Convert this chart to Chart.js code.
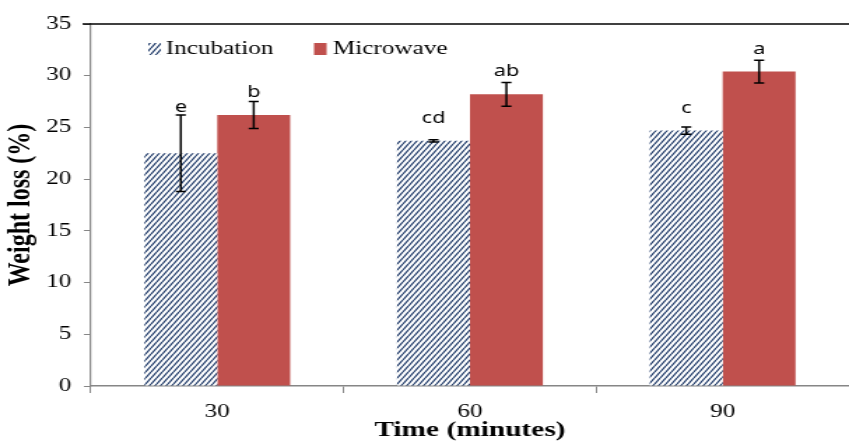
<!DOCTYPE html>
<html>
<head>
<meta charset="utf-8">
<script src="https://cdn.jsdelivr.net/npm/chart.js@4.4.1/dist/chart.umd.min.js"></script>
<style>
  html, body { margin: 0; padding: 0; background: #ffffff; overflow: hidden; }
  #wrap { position: relative; width: 607px; height: 443px; transform: scaleX(1.39868); transform-origin: 0 0; }
  canvas { display: block; }
</style>
</head>
<body>
<div id="wrap"><canvas id="c" width="607" height="443"></canvas></div>
<script>
// ---- data ----
const categories = ['30', '60', '90'];
const seriesNames = ['Incubation', 'Microwave'];
const incubation = [22.5, 23.7, 24.7];
const microwave = [26.2, 28.2, 30.4];
const incubationErr = [3.7, 0.1, 0.35];
const microwaveErr = [1.3, 1.15, 1.1];
const incubationLetters = ['e', 'cd', 'c'];
const microwaveLetters = ['b', 'ab', 'a'];
const yTicks = [0, 5, 10, 15, 20, 25, 30, 35];

// ---- hatch pattern ----
function makeHatch() {
  const w = 4, h = 6;
  const p = document.createElement('canvas');
  p.width = w; p.height = h;
  const g = p.getContext('2d');
  g.fillStyle = '#ffffff';
  g.fillRect(0, 0, w, h);
  g.strokeStyle = '#1b3766';
  g.lineWidth = 1.2;
  g.beginPath();
  g.moveTo(0, h); g.lineTo(w, 0);
  g.moveTo(-w, h); g.lineTo(0, 0);
  g.moveTo(w, h); g.lineTo(2 * w, 0);
  g.stroke();
  return document.getElementById('c').getContext('2d').createPattern(p, 'repeat');
}
const hatch = makeHatch();

const serif = "'Liberation Serif', 'Times New Roman', serif";
const sans = "'Noto Sans', 'Open Sans', sans-serif";

const errorPlugin = {
  id: 'errs',
  afterDatasetsDraw(chart) {
    const ctx = chart.ctx;
    const y = chart.scales.y;
    const errs = [incubationErr, microwaveErr];
    const vals = [incubation, microwave];
    const letters = [incubationLetters, microwaveLetters];
    ctx.save();
    for (let d = 0; d < 2; d++) {
      const meta = chart.getDatasetMeta(d);
      meta.data.forEach((bar, i) => {
        const x = bar.x;
        const top = y.getPixelForValue(vals[d][i] + errs[d][i]);
        const bot = y.getPixelForValue(vals[d][i] - errs[d][i]);
        ctx.strokeStyle = '#000000';
        ctx.lineWidth = 1.5;
        ctx.beginPath();
        ctx.moveTo(x, top); ctx.lineTo(x, bot);
        ctx.moveTo(x - 3.6, top); ctx.lineTo(x + 3.6, top);
        ctx.moveTo(x - 3.6, bot); ctx.lineTo(x + 3.6, bot);
        ctx.stroke();
        ctx.fillStyle = '#000000';
        ctx.font = '15.5px ' + sans;
        ctx.textAlign = 'center';
        ctx.textBaseline = 'alphabetic';
        const base = Math.min(top - 3, bar.y - 18);
        ctx.fillText(letters[d][i], x, base);
      });
    }
    // top border line
    const a = chart.chartArea;
    ctx.strokeStyle = '#000000';
    ctx.lineWidth = 1.6;
    ctx.beginPath();
    ctx.moveTo(a.left - 6, a.top);
    ctx.lineTo(a.right, a.top);
    ctx.stroke();
    // legend
    const lx = [106, 224.5];
    const tx = [118.5, 238];
    const fills = [hatch, '#c0504d'];
    ctx.font = '18px ' + serif;
    ctx.textAlign = 'left';
    ctx.textBaseline = 'middle';
    for (let k = 0; k < 2; k++) {
      ctx.fillStyle = fills[k];
      ctx.fillRect(lx[k], 43, 9, 12);
      ctx.fillStyle = '#000000';
      ctx.fillText(seriesNames[k], tx[k], 49);
    }
    ctx.restore();
  }
};

new Chart(document.getElementById('c'), {
  type: 'bar',
  data: {
    labels: categories,
    datasets: [
      { label: seriesNames[0], data: incubation, backgroundColor: hatch, borderWidth: 0 },
      { label: seriesNames[1], data: microwave, backgroundColor: '#c0504d', borderWidth: 0 }
    ]
  },
  options: {
    responsive: false,
    animation: false,
    devicePixelRatio: 1,
    layout: { padding: { left: 0, right: 0, top: 24, bottom: 0 } },
    categoryPercentage: 0.577,
    barPercentage: 1.0,
    plugins: { legend: { display: false }, tooltip: { enabled: false } },
    scales: {
      x: {
        offset: true,
        grid: { display: true, offset: true, drawOnChartArea: false, drawTicks: true, tickLength: 7, color: '#868686', lineWidth: 1 },
        border: { display: true, color: '#868686', width: 1.5 },
        ticks: { color: '#000000', font: { family: serif, size: 18 }, padding: 8 },
        title: { display: true, text: 'Time (minutes)', color: '#000000', font: { family: serif, size: 21, weight: 'bold' }, padding: { top: -8, bottom: 0 } },
        afterFit(s) { s.height = 57; }
      },
      y: {
        min: 0, max: 35,
        afterBuildTicks(s) { s.ticks = yTicks.map(v => ({ value: v })); },
        grid: { display: true, drawOnChartArea: false, drawTicks: true, tickLength: 5, color: '#868686', lineWidth: 1 },
        border: { display: true, color: '#868686', width: 1.2 },
        ticks: { color: '#000000', font: { family: serif, size: 18 }, padding: 9 },
        title: { display: true, text: 'Weight loss (%)', color: '#000000', font: { family: serif, size: 24, weight: 'bold' }, padding: { top: 0, bottom: 0 } },
        afterFit(s) { s.width = 65; }
      }
    }
  },
  plugins: [errorPlugin]
});
</script>
</body>
</html>
